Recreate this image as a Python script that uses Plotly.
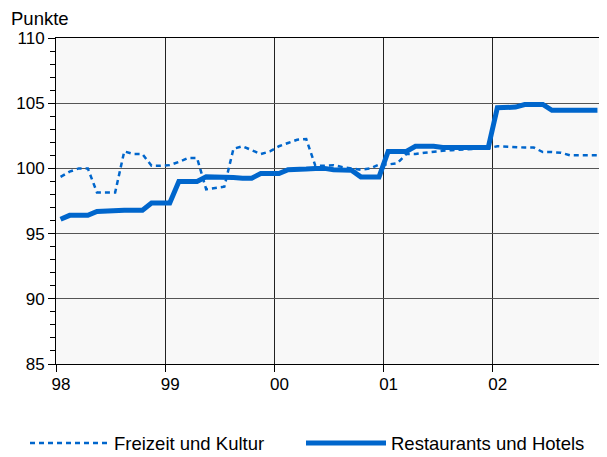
import plotly.graph_objects as go

# Monthly index values, Jan 1998 .. Dec 2002
freizeit = [99.35, 99.75, 100.0, 100.0, 98.15, 98.15, 98.15, 101.3, 101.1, 101.1, 100.2, 100.2,
            100.25, 100.5, 100.8, 100.8, 98.4, 98.5, 98.6, 101.5, 101.7, 101.4, 101.1, 101.3,
            101.7, 101.95, 102.2, 102.25, 100.2, 100.2, 100.25, 100.1, 100.0, 99.9, 100.0, 100.3,
            100.3, 100.4, 101.1, 101.1, 101.2, 101.3, 101.35, 101.4, 101.45, 101.5, 101.5, 101.55,
            101.7, 101.65, 101.6, 101.6, 101.6, 101.25, 101.25, 101.2, 101.0, 101.0, 101.0, 101.0]
restaurants = [96.1, 96.4, 96.4, 96.4, 96.7, 96.75, 96.8, 96.8, 96.8, 96.8, 97.35, 97.35,
               97.35, 99.0, 99.0, 99.0, 99.35, 99.35, 99.35, 99.3, 99.25, 99.25, 99.6, 99.6,
               99.6, 99.9, 99.9, 99.95, 100.0, 100.0, 99.9, 99.9, 99.85, 99.35, 99.35, 99.35,
               101.3, 101.3, 101.3, 101.7, 101.7, 101.7, 101.6, 101.6, 101.6, 101.6, 101.6, 101.6,
               104.65, 104.65, 104.7, 104.9, 104.9, 104.9, 104.45, 104.45, 104.45, 104.45, 104.45, 104.45]
year_labels = ["98", "99", "00", "01", "02", ""]
series_names = ["Freizeit und Kultur", "Restaurants und Hotels"]

months = [i + 0.5 for i in range(len(restaurants))]
year_ticks = [12 * k for k in range(len(year_labels))]

BLUE = "#0066CC"
FONT = "Liberation Sans, Arial, sans-serif"
DASH = "5px,4px"

fig = go.Figure()
fig.add_trace(go.Scatter(x=months, y=freizeit, mode="lines", name=series_names[0],
                         line=dict(color=BLUE, width=2.5, dash=DASH), showlegend=False))
fig.add_trace(go.Scatter(x=months, y=restaurants, mode="lines", name=series_names[1],
                         line=dict(color=BLUE, width=5), showlegend=False))

# The page body has an 8px margin, so the figure is sized/placed to compensate.
fig.update_layout(
    width=599, height=449,
    margin=dict(l=48, r=5, t=30, b=93, autoexpand=False),
    paper_bgcolor="white", plot_bgcolor="#F8F8F8",
    font=dict(family=FONT, size=17, color="black"),
    showlegend=False,
)
fig.update_xaxes(
    range=[0, 60], tickvals=year_ticks, ticktext=year_labels,
    ticks="outside", ticklen=7, tickcolor="black", tickwidth=1,
    showgrid=True, gridcolor="#222222", gridwidth=1,
    showline=True, linecolor="black", linewidth=1, mirror=True,
    zeroline=False, ticklabelshift=5, ticklabelstandoff=-2, automargin=False,
)
fig.update_yaxes(
    range=[85, 110], tickvals=[85, 90, 95, 100, 105, 110],
    ticks="outside", ticklen=7, tickcolor="black", tickwidth=1,
    minor=dict(dtick=1, ticks="outside", ticklen=5, tickcolor="black", showgrid=False),
    showgrid=True, gridcolor="#555555", gridwidth=1,
    showline=True, linecolor="black", linewidth=1, mirror=True,
    zeroline=False, ticklabelstandoff=0, automargin=False,
)

# Screen-pixel helpers (plot area on screen: x 56..602, y 38..364)
def px_x(px):
    return (px - 56) / 546.0

def px_y(py):
    return (364 - py) / 326.0

# Unit label
fig.add_annotation(xref="paper", yref="paper", x=px_x(10), y=px_y(19), xanchor="left", yanchor="middle",
                   text="Punkte", showarrow=False, font=dict(size=18.5), borderpad=0)

# Custom legend below the chart
ly = px_y(443)
fig.add_shape(type="line", xref="paper", yref="paper", x0=px_x(30), x1=px_x(110), y0=ly, y1=ly,
              line=dict(color=BLUE, width=2.5, dash=DASH))
fig.add_annotation(xref="paper", yref="paper", x=px_x(112), y=ly, xanchor="left", yanchor="middle",
                   text=series_names[0], showarrow=False, font=dict(size=18.5))
fig.add_shape(type="line", xref="paper", yref="paper", x0=px_x(306), x1=px_x(386), y0=ly, y1=ly,
              line=dict(color=BLUE, width=5))
fig.add_annotation(xref="paper", yref="paper", x=px_x(389), y=ly, xanchor="left", yanchor="middle",
                   text=series_names[1], showarrow=False, font=dict(size=18.5))

fig.write_html("out.html")
